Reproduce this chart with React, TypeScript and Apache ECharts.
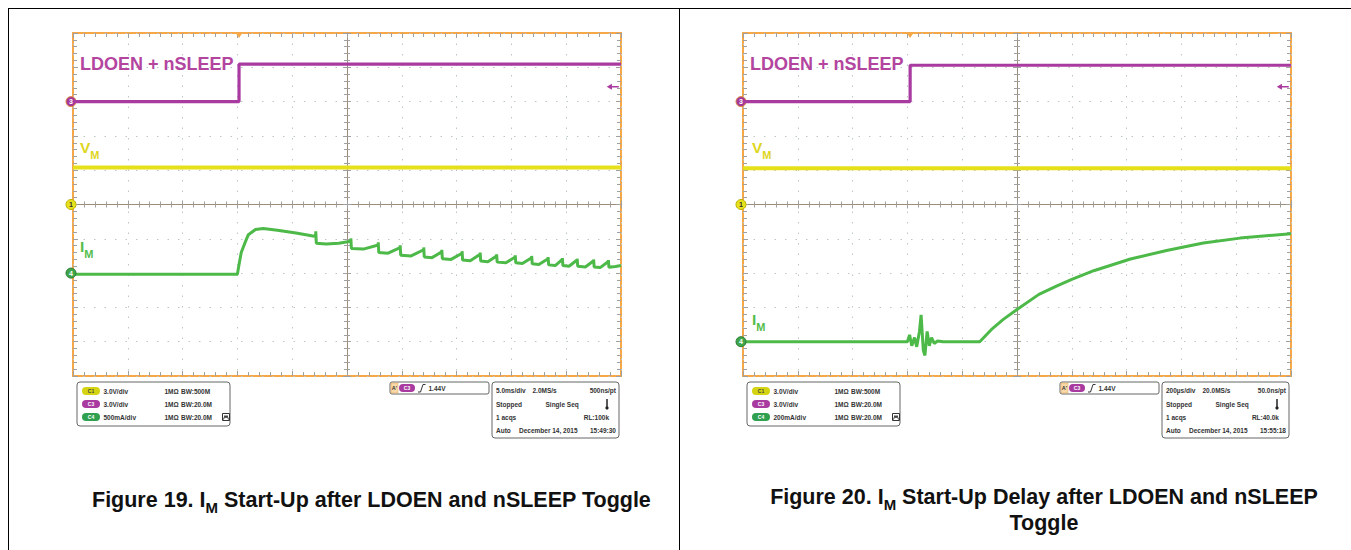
import React, { useEffect, useRef } from "react";
import * as echarts from "echarts";

// ---------------- DATA (screen divisions: x 0–10 left→right, y 0–10 bottom→top) ----------------
const logicLeft: [number, number][] = [[0, 8.0], [3.03, 8.0], [3.03, 9.09], [10, 9.09]];
const logicRight: [number, number][] = [[0, 8.0], [3.05, 8.0], [3.05, 9.06], [10, 9.06]];
const supplyLeft: [number, number][] = [[0, 6.08], [10, 6.08]];
const supplyRight: [number, number][] = [[0, 6.06], [10, 6.06]];
const currentLeft: [number, number][] = [
  [0, 2.97], [3.0, 2.97], [3.03, 3.25], [3.07, 3.6], [3.13, 3.85], [3.2, 4.12], [3.33, 4.27], [3.47, 4.3],
  [3.73, 4.25], [4.07, 4.17], [4.43, 4.07], [4.43, 4.22], [4.44, 3.87], [4.62, 3.85], [4.85, 3.87],
  [5.07, 3.93], [5.07, 4.01], [5.08, 3.72], [5.3, 3.7], [5.57, 3.82], [5.57, 3.9], [5.58, 3.6],
  [5.75, 3.58], [5.97, 3.74], [5.97, 3.81], [5.98, 3.52], [6.17, 3.5], [6.4, 3.68], [6.4, 3.75],
  [6.41, 3.47], [6.55, 3.45], [6.73, 3.62], [6.73, 3.68], [6.74, 3.42], [6.9, 3.4], [7.1, 3.58],
  [7.1, 3.64], [7.11, 3.38], [7.25, 3.36], [7.43, 3.55], [7.43, 3.6], [7.44, 3.35], [7.57, 3.33],
  [7.73, 3.5], [7.73, 3.55], [7.74, 3.32], [7.9, 3.3], [8.07, 3.47], [8.07, 3.52], [8.08, 3.3],
  [8.2, 3.28], [8.37, 3.45], [8.37, 3.5], [8.38, 3.27], [8.5, 3.25], [8.67, 3.42], [8.67, 3.47],
  [8.68, 3.24], [8.8, 3.22], [8.93, 3.4], [8.93, 3.44], [8.94, 3.22], [9.05, 3.2], [9.2, 3.38],
  [9.2, 3.42], [9.21, 3.2], [9.35, 3.18], [9.5, 3.36], [9.5, 3.4], [9.51, 3.18], [9.62, 3.16],
  [9.77, 3.34], [9.77, 3.38], [9.78, 3.17], [9.9, 3.19], [10, 3.22],
];
const currentRight: [number, number][] = [
  [0, 1.0], [3.0, 1.0], [3.04, 1.2], [3.08, 0.88], [3.13, 1.12], [3.17, 0.85], [3.22, 1.3], [3.25, 1.78],
  [3.29, 0.75], [3.32, 0.6], [3.36, 1.3], [3.4, 0.88], [3.44, 1.12], [3.49, 0.95], [3.55, 1.02],
  [3.65, 1.0], [4.32, 1.0], [4.53, 1.35], [4.75, 1.65], [5.0, 1.94], [5.4, 2.38], [5.73, 2.63],
  [6.0, 2.82], [6.4, 3.07], [7.07, 3.41], [7.73, 3.66], [8.4, 3.88], [9.07, 4.02], [10, 4.15],
];
// channel ground markers: [logic, supply, current]
const markersLeft = [8, 5, 3];
const markersRight = [8, 5, 1];
const triggerXLeft = 3.03;
const triggerXRight = 3.05;
const triggerLevel = 8.43;

// ---------------- TEXT ----------------
const channelRowsLeft = [
  ["C1", "3.0V/div", "1MΩ", "BW:500M"],
  ["C3", "3.0V/div", "1MΩ", "BW:20.0M"],
  ["C4", "500mA/div", "1MΩ", "BW:20.0M"],
];
const channelRowsRight = [
  ["C1", "3.0V/div", "1MΩ", "BW:500M"],
  ["C3", "3.0V/div", "1MΩ", "BW:20.0M"],
  ["C4", "200mA/div", "1MΩ", "BW:20.0M"],
];
const timingLeft = ["5.0ms/div", "2.0MS/s", "500ns/pt", "Stopped", "Single Seq", "1 acqs", "RL:100k", "Auto", "December 14, 2015", "15:49:30"];
const timingRight = ["200µs/div", "20.0MS/s", "50.0ns/pt", "Stopped", "Single Seq", "1 acqs", "RL:40.0k", "Auto", "December 14, 2015", "15:55:18"];
const triggerText = "1.44V";

// ---------------- STYLE ----------------
const FONT = '"Liberation Sans", Arial, Helvetica, sans-serif';
const PURPLE = "#a93ba0";
const PURPLE_T = "#b3459f";
const YELLOW = "#e6e01a";
const YELLOW_T = "#ded61e";
const GREEN = "#4db948";
const GREEN_T = "#55bd4b";
const ORANGE = "#f6a848";
const GRIDC = "#bcc6c8";
const TICKC = "#a0a0a0";
const CENTERC = "#9c8c7c";
const BOXFS = 6.5;

const GRID_W = 548;
const GRID_H = 343;
const GRID_TOP = 33;
const PANEL_X = [73, 743];

function axesFor(g: number, dim: "x" | "y") {
  const isX = dim === "x";
  const base: any = {
    type: "value", min: 0, max: 10, interval: 1, gridIndex: g,
    axisLabel: { show: false }, splitLine: { show: false },
    axisLine: { show: false, onZero: false },
  };
  const tick = (inside: boolean, len: number) => ({
    axisTick: { show: true, inside, length: len, lineStyle: { color: TICKC, width: 1 } },
    minorTick: { show: true, splitNumber: 5, length: len - 1, lineStyle: { color: TICKC, width: 1 } },
  });
  const half = isX ? GRID_H / 2 : GRID_W / 2;
  return [
    {
      ...base, position: isX ? "bottom" : "left", ...tick(true, 5),
      splitLine: { show: true, lineStyle: { color: GRIDC, type: [1.5, 9], width: 1 } },
    },
    { ...base, position: isX ? "top" : "right", ...tick(true, 5) },
    {
      ...base, position: isX ? "bottom" : "left", offset: -half, ...tick(true, 4),
      axisLine: { show: true, onZero: false, lineStyle: { color: CENTERC, width: 1 } },
    },
    { ...base, position: isX ? "bottom" : "left", offset: -half, ...tick(false, 4) },
  ];
}

function markerItem(y: number, label: string, fill: string, border: string, txt: string) {
  return {
    coord: [0, y], symbol: "circle", symbolSize: 10, symbolOffset: [-2, 0],
    itemStyle: { color: fill, borderColor: border, borderWidth: 1 },
    label: { show: true, formatter: label, position: "inside", color: txt, fontSize: 7, fontWeight: "bold", fontFamily: FONT },
  };
}

function seriesFor(g: number, logic: [number, number][], supply: [number, number][], current: [number, number][], markers: number[], trigX: number) {
  const ax = { xAxisIndex: g * 4, yAxisIndex: g * 4 };
  return [
    {
      type: "line", ...ax, data: supply, symbol: "none", lineStyle: { color: YELLOW, width: 4 }, z: 3,
      markPoint: { animation: false, data: [markerItem(markers[1], "1", "#e8e21c", "#b9b000", "#333")] },
    },
    {
      type: "line", ...ax, data: current, symbol: "none", lineStyle: { color: GREEN, width: 3 }, z: 4,
      markPoint: { animation: false, data: [markerItem(markers[2], "4", "#3fa54a", "#2a7a35", "#fff")] },
    },
    {
      type: "line", ...ax, data: logic, symbol: "none", lineStyle: { color: PURPLE, width: 3.2 }, z: 5,
      markPoint: {
        animation: false,
        data: [
          markerItem(markers[0], "3", "#a3389a", "#e08a40", "#fff"),
          {
            coord: [trigX, 10], symbol: "triangle", symbolRotate: 180, symbolSize: [8, 6], symbolOffset: [0, 2],
            itemStyle: { color: ORANGE }, label: { show: false },
          },
          {
            coord: [9.85, triggerLevel], symbol: "path://M0,4 L6,0 L6,3 L14,3 L14,5 L6,5 L6,8 Z",
            symbolSize: [12, 6], itemStyle: { color: PURPLE }, label: { show: false },
          },
        ],
      },
    },
  ];
}

function txt(text: string, x: number, y: number, size: number, align = "left", color = "#333", weight = "bold") {
  return {
    type: "text", silent: true, z: 20,
    style: {
      text, x, y, fill: color, font: `${weight} ${size}px ${FONT}`,
      align, verticalAlign: "middle", textAlign: align, textVerticalAlign: "middle",
    },
  };
}

function panelGraphics(dx: number, rows: string[][], timing: string[]) {
  const els: any[] = [];
  const badgeColors = [["#d4d412", "#444"], ["#a83aa0", "#fff"], ["#2fa050", "#fff"]];
  // channel box
  els.push({ type: "rect", z: 10, shape: { x: 77 + dx, y: 382, width: 153, height: 44, r: 3 }, style: { fill: "#fff", stroke: "#666", lineWidth: 1 } });
  const rowY = [391, 404, 417];
  rows.forEach((r, i) => {
    els.push({ type: "rect", z: 15, shape: { x: 82 + dx, y: rowY[i] - 4, width: 18, height: 8, r: 4 }, style: { fill: badgeColors[i][0] } });
    els.push(txt(r[0], 91 + dx, rowY[i], 5, "center", badgeColors[i][1]));
    els.push(txt(r[1], 103.5 + dx, rowY[i], BOXFS));
    els.push(txt(r[2], 164.5 + dx, rowY[i], BOXFS));
    els.push(txt(r[3], 181 + dx, rowY[i], BOXFS));
  });
  els.push({ type: "rect", z: 15, shape: { x: 222.5 + dx, y: 413.5, width: 7, height: 7 }, style: { fill: "#fff", stroke: "#333", lineWidth: 1 } });
  els.push({ type: "polyline", z: 16, shape: { points: [[223.5 + dx, 419.5], [225 + dx, 415.5], [226 + dx, 418], [227 + dx, 415.5], [228.5 + dx, 419.5]] }, style: { stroke: "#333", lineWidth: 1, fill: "none" } });
  // trigger box
  els.push({ type: "rect", z: 10, shape: { x: 390 + dx, y: 382, width: 99, height: 12, r: 2 }, style: { fill: "#fff", stroke: "#666", lineWidth: 1 } });
  els.push({ type: "rect", z: 15, shape: { x: 391 + dx, y: 383, width: 7, height: 10 }, style: { fill: "#f9d9a8", stroke: "#e0a050", lineWidth: 0.5 } });
  els.push(txt("A'", 394.5 + dx, 388, 5.5, "center", "#333"));
  els.push({ type: "rect", z: 15, shape: { x: 399 + dx, y: 384, width: 16, height: 8, r: 4 }, style: { fill: "#a83aa0" } });
  els.push(txt("C3", 407 + dx, 388, 5, "center", "#fff"));
  els.push({ type: "polyline", z: 16, shape: { points: [[418 + dx, 392], [420.5 + dx, 392], [423 + dx, 384.5], [425.5 + dx, 384.5]] }, style: { stroke: "#333", lineWidth: 1, fill: "none" } });
  els.push(txt(triggerText, 428.5 + dx, 388, BOXFS));
  // timing box
  els.push({ type: "rect", z: 10, shape: { x: 492 + dx, y: 382, width: 127, height: 56, r: 3 }, style: { fill: "#fff", stroke: "#666", lineWidth: 1 } });
  const ty = [390.5, 404, 417, 430.5];
  els.push(txt(timing[0], 496 + dx, ty[0], BOXFS));
  els.push(txt(timing[1], 532.5 + dx, ty[0], BOXFS));
  els.push(txt(timing[2], 616 + dx, ty[0], BOXFS, "right"));
  els.push(txt(timing[3], 496 + dx, ty[1], BOXFS));
  els.push(txt(timing[4], 545.5 + dx, ty[1], BOXFS));
  els.push({ type: "line", z: 16, shape: { x1: 607 + dx, y1: 399, x2: 607 + dx, y2: 407 }, style: { stroke: "#222", lineWidth: 1.5 } });
  els.push({ type: "circle", z: 16, shape: { cx: 607 + dx, cy: 408, r: 1.6 }, style: { fill: "#222" } });
  els.push(txt(timing[5], 496 + dx, ty[2], BOXFS));
  els.push(txt(timing[6], 609 + dx, ty[2], BOXFS, "right"));
  els.push(txt(timing[7], 496 + dx, ty[3], BOXFS));
  els.push(txt(timing[8], 519 + dx, ty[3], BOXFS));
  els.push(txt(timing[9], 616 + dx, ty[3], BOXFS, "right"));
  // in-plot labels
  els.push(txt("LDOEN + nSLEEP", 80 + dx, 64, 18, "left", PURPLE_T));
  return els;
}

function richLabel(main: string, sub: string, x: number, y: number, size: number, color: string) {
  return {
    type: "text", silent: true, z: 20,
    style: {
      text: `{m|${main}}{s|${sub}}`, x, y, fill: color,
      align: "left", verticalAlign: "top", textAlign: "left", textVerticalAlign: "top",
      rich: {
        m: { fontSize: size, fontWeight: "bold", fontFamily: FONT, fill: color, color, padding: [0, 0, Math.round(size * 0.3), 0], verticalAlign: "top" },
        s: { fontSize: Math.round(size * 0.68), fontWeight: "bold", fontFamily: FONT, fill: color, color, verticalAlign: "bottom" },
      },
    },
  };
}

function caption(parts: [string, string, string], x: number, y: number, align: string) {
  const m = { fontSize: 21.5, fontWeight: "bold", fontFamily: FONT, fill: "#111", color: "#111", padding: [0, 0, 4, 0], verticalAlign: "top" };
  const s = { fontSize: 15, fontWeight: "bold", fontFamily: FONT, fill: "#111", color: "#111", verticalAlign: "bottom" };
  return {
    type: "text", silent: true, z: 20,
    style: {
      text: `{m|${parts[0]}}{s|${parts[1]}}{m|${parts[2]}}`, x, y, fill: "#111",
      align, textAlign: align, verticalAlign: "top", textVerticalAlign: "top",
      rich: { m, s },
    },
  };
}

function buildOption(): any {
  const grids = PANEL_X.map((x) => ({
    left: x, top: GRID_TOP, width: GRID_W, height: GRID_H, show: true,
    borderColor: ORANGE, borderWidth: 2, backgroundColor: "#fff", containLabel: false,
  }));
  const xAxis = [...axesFor(0, "x"), ...axesFor(1, "x")];
  const yAxis = [...axesFor(0, "y"), ...axesFor(1, "y")];
  const series = [
    ...seriesFor(0, logicLeft, supplyLeft, currentLeft, markersLeft, triggerXLeft),
    ...seriesFor(1, logicRight, supplyRight, currentRight, markersRight, triggerXRight),
  ];
  const graphic: any[] = [
    { type: "line", z: 30, shape: { x1: 8, y1: 8.5, x2: 1351, y2: 8.5 }, style: { stroke: "#000", lineWidth: 1 } },
    { type: "line", z: 30, shape: { x1: 8.5, y1: 8, x2: 8.5, y2: 550 }, style: { stroke: "#000", lineWidth: 1 } },
    { type: "line", z: 30, shape: { x1: 679.5, y1: 8, x2: 679.5, y2: 550 }, style: { stroke: "#000", lineWidth: 1 } },
    ...panelGraphics(0, channelRowsLeft, timingLeft),
    ...panelGraphics(670, channelRowsRight, timingRight),
    richLabel("V", "M", 80, 139, 15.5, YELLOW_T),
    richLabel("V", "M", 752, 139, 15.5, YELLOW_T),
    richLabel("I", "M", 80, 238, 15.5, GREEN_T),
    richLabel("I", "M", 752, 311, 15.5, GREEN_T),
    caption(["Figure 19. I", "M", " Start-Up after LDOEN and nSLEEP Toggle"], 92, 489, "left"),
    caption(["Figure 20. I", "M", " Start-Up Delay after LDOEN and nSLEEP"], 1044, 486, "center"),
    caption(["Toggle", "", ""], 1044, 512, "center"),
  ];
  return {
    animation: false,
    backgroundColor: "#fff",
    grid: grids,
    xAxis,
    yAxis,
    series,
    graphic,
  };
}

export default function App() {
  const ref = useRef<HTMLDivElement>(null);
  useEffect(() => {
    const chart = echarts.init(ref.current as HTMLDivElement, null, { renderer: "svg" });
    chart.setOption(buildOption());
    return () => chart.dispose();
  }, []);
  return (
    <div
      ref={ref}
      style={{ position: "absolute", left: 0, top: 0, width: 1351, height: 550, background: "#fff" }}
    />
  );
}
